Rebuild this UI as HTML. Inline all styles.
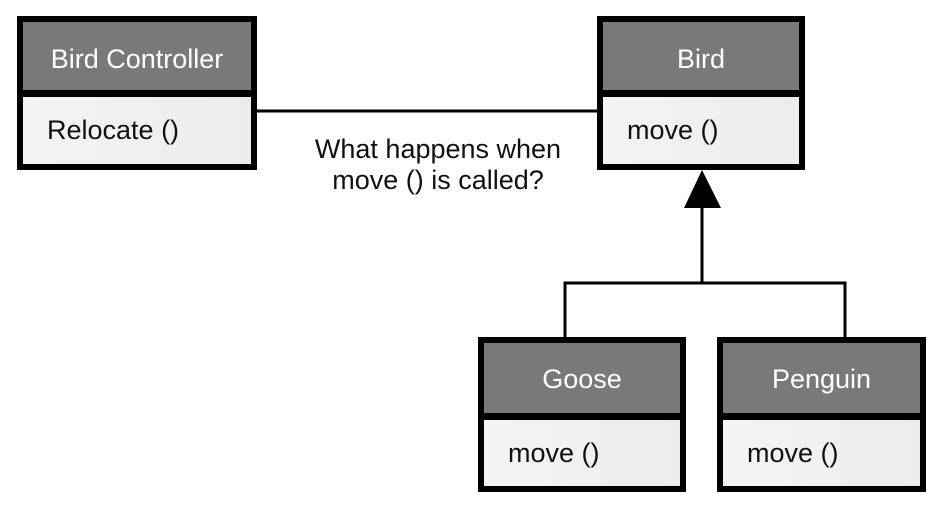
<!DOCTYPE html>
<html><head><meta charset="utf-8"><style>
body{margin:0;width:939px;height:506px;background:#fff;position:relative;overflow:hidden;font-family:"Liberation Sans",Arial,sans-serif}
.box{position:absolute;background:#000;box-sizing:border-box}
.hd{position:absolute;left:6px;right:6px;top:6px;background:#77797b;color:#fff;font-size:27px;text-align:center}
.bd{position:absolute;left:6px;right:6px;bottom:6px;background:linear-gradient(90deg,#f4f4f4,#ececec);color:#111;font-size:27px;box-sizing:border-box;padding-left:24px}
.lbl{position:absolute;left:300px;top:134px;width:276px;text-align:center;font-size:27px;line-height:31px;color:#111}
</style></head><body>
<svg width="939" height="506" style="position:absolute;left:0;top:0">
<line x1="257" y1="111" x2="597" y2="111" stroke="#000" stroke-width="3"/>
<polygon points="702,170 684,208 721,208" fill="#000"/>
<line x1="702" y1="207" x2="702" y2="283" stroke="#000" stroke-width="3"/>
<polyline points="565,337 565,283 845,283 845,337" fill="none" stroke="#000" stroke-width="3"/>
</svg>
<div class="box" style="left:17px;top:16px;width:240px;height:154px">
<div class="hd" style="height:68px;line-height:74px">Bird Controller</div>
<div class="bd" style="height:67px;line-height:67px">Relocate ()</div></div>
<div class="box" style="left:597px;top:16px;width:208px;height:154px">
<div class="hd" style="height:68px;line-height:74px">Bird</div>
<div class="bd" style="height:67px;line-height:67px">move ()</div></div>
<div class="box" style="left:478px;top:337px;width:208px;height:155px">
<div class="hd" style="height:70px;line-height:72px">Goose</div>
<div class="bd" style="height:66px;line-height:66px">move ()</div></div>
<div class="box" style="left:717px;top:337px;width:209px;height:155px">
<div class="hd" style="height:70px;line-height:72px">Penguin</div>
<div class="bd" style="height:66px;line-height:66px">move ()</div></div>
<div class="lbl">What happens when<br>move () is called?</div>
</body></html>
